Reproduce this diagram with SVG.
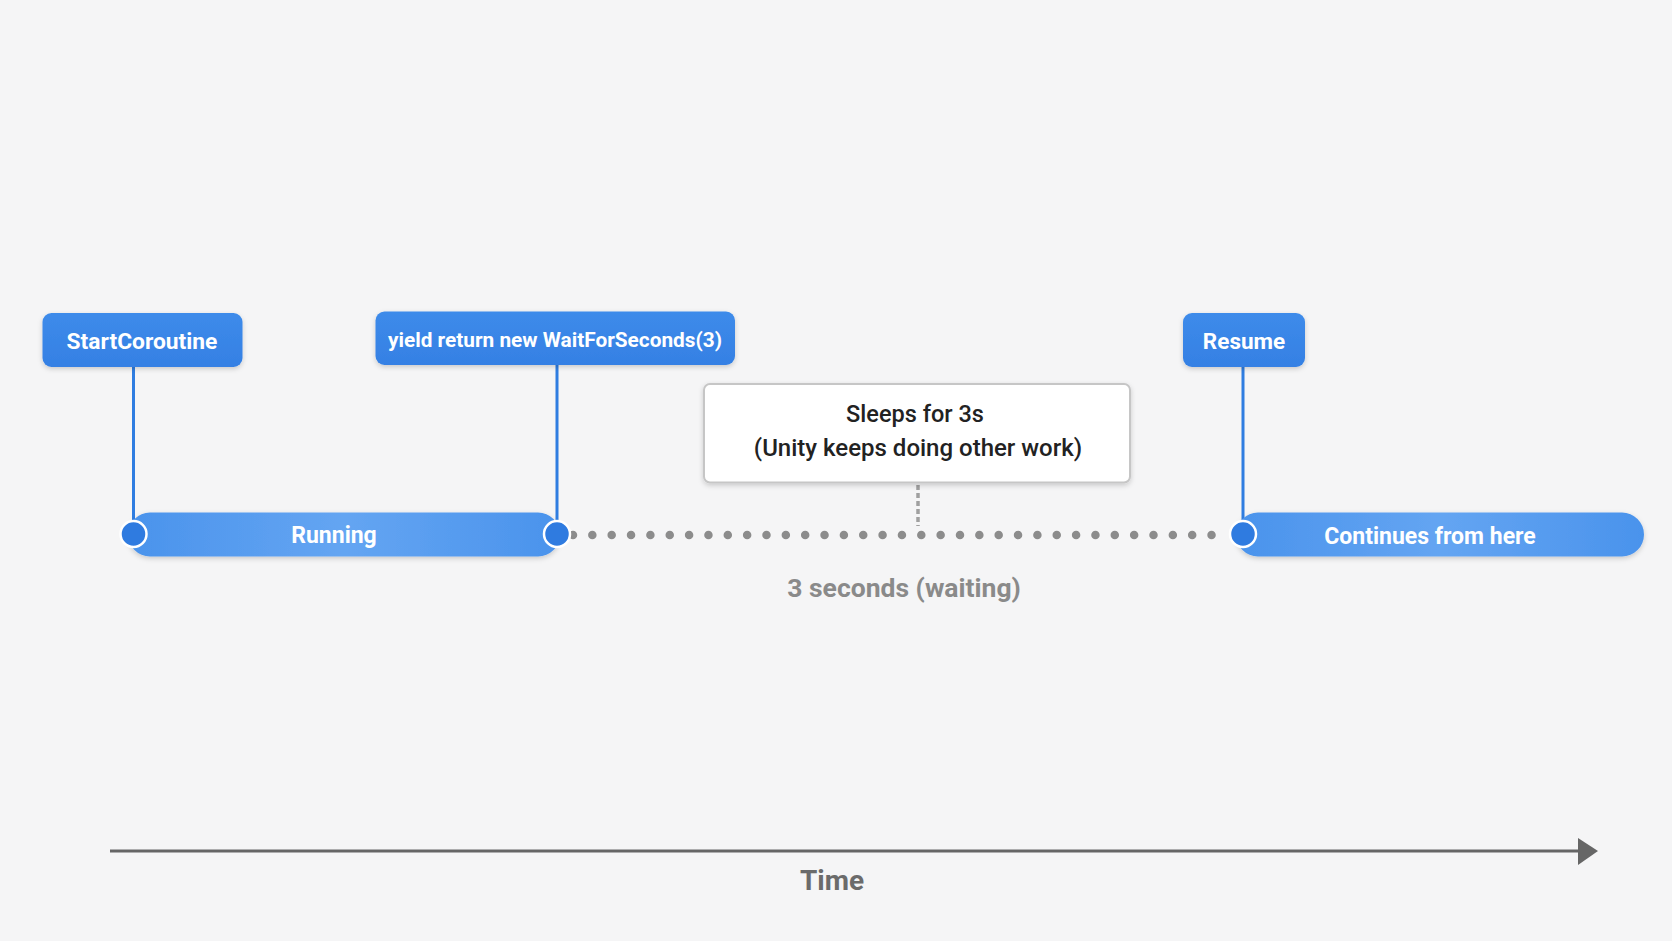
<svg xmlns="http://www.w3.org/2000/svg" width="1672" height="941" viewBox="0 0 1672 941">
  <defs>
    <style>
      .lbl { font-family: Roboto, "Liberation Sans", sans-serif; font-weight: 700; fill: #ffffff; text-anchor: middle; }
      .box { fill: url(#boxGrad); }
      .bar { fill: url(#barGrad); }
      .stem { stroke: #2f7de1; stroke-width: 3; fill: none; }
      .dot { fill: #2f7be0; stroke: #ffffff; stroke-width: 2.5; }
      .note { font-family: Roboto, "Liberation Sans", sans-serif; font-weight: 500; fill: #222222; text-anchor: middle; }
      .gray { font-family: Roboto, "Liberation Sans", sans-serif; font-weight: 700; fill: #8a8a8a; text-anchor: middle; }
    </style>
    <linearGradient id="boxGrad" x1="0" y1="0" x2="0" y2="1">
      <stop offset="0" stop-color="#3d8bea"/>
      <stop offset="1" stop-color="#3580e4"/>
    </linearGradient>
    <linearGradient id="barGrad" x1="0" y1="0" x2="1" y2="0">
      <stop offset="0" stop-color="#4a93ec"/>
      <stop offset="0.5" stop-color="#64a5f2"/>
      <stop offset="1" stop-color="#4a93ec"/>
    </linearGradient>
    <filter id="shadow" x="-10%" y="-20%" width="120%" height="150%">
      <feDropShadow dx="0" dy="2" stdDeviation="2.5" flood-color="#000000" flood-opacity="0.18"/>
    </filter>
  </defs>

  <rect x="0" y="0" width="1672" height="941" fill="#f5f5f6"/>

  <g id="connectors">
    <line class="stem" x1="133.5" y1="366" x2="133.5" y2="534"/>
    <line class="stem" x1="557" y1="364" x2="557" y2="534"/>
    <line class="stem" x1="1243" y1="366" x2="1243" y2="534"/>
    <line x1="918" y1="485" x2="918" y2="526" stroke="#a0a0a0" stroke-width="3.5" stroke-dasharray="5,3"/>
    <line x1="573" y1="535" x2="1225" y2="535" stroke="#8c8c8c" stroke-width="8.5" stroke-linecap="round" stroke-dasharray="0,19.35"/>
    <line x1="110" y1="851" x2="1580" y2="851" stroke="#666666" stroke-width="3"/>
    <path d="M1578,838 L1598,851 L1578,865 Z" fill="#666666"/>
  </g>

  <g id="running">
    <rect class="bar" x="128" y="512.5" width="432" height="44" rx="22" filter="url(#shadow)"/>
    <text class="lbl" x="334" y="543" font-size="23">Running</text>
  </g>

  <g id="continues">
    <rect class="bar" x="1236" y="512.5" width="408" height="44" rx="22" filter="url(#shadow)"/>
    <text class="lbl" x="1430" y="544" font-size="23">Continues from here</text>
  </g>

  <g id="start-dot"><circle class="dot" cx="133.5" cy="534" r="13"/></g>
  <g id="yield-dot"><circle class="dot" cx="557" cy="534" r="13"/></g>
  <g id="resume-dot"><circle class="dot" cx="1243" cy="534" r="13"/></g>

  <g id="start-coroutine">
    <rect class="box" x="42.5" y="313" width="200" height="54" rx="9" filter="url(#shadow)"/>
    <text class="lbl" x="142" y="349" font-size="22.8">StartCoroutine</text>
  </g>

  <g id="yield">
    <rect class="box" x="375.5" y="311.5" width="359.5" height="53.5" rx="9" filter="url(#shadow)"/>
    <text class="lbl" x="555" y="347" font-size="20.8">yield return new WaitForSeconds(3)</text>
  </g>

  <g id="resume">
    <rect class="box" x="1183" y="313" width="122" height="54" rx="9" filter="url(#shadow)"/>
    <text class="lbl" x="1244" y="349" font-size="22.5">Resume</text>
  </g>

  <g id="sleeps">
    <rect x="704" y="384" width="426" height="98.5" rx="6" fill="#ffffff" stroke="#c6c6c6" stroke-width="2" filter="url(#shadow)"/>
    <text class="note" x="915" y="422" font-size="23.5">Sleeps for 3s</text>
    <text class="note" x="918" y="456" font-size="24">(Unity keeps doing other work)</text>
  </g>

  <g id="waiting-label">
    <text class="gray" x="904" y="597" font-size="26.5">3 seconds (waiting)</text>
  </g>

  <g id="time-label">
    <text x="832" y="890" font-family="Roboto, 'Liberation Sans', sans-serif" font-weight="700" font-size="28" fill="#6b6b6b" text-anchor="middle">Time</text>
  </g>
</svg>
